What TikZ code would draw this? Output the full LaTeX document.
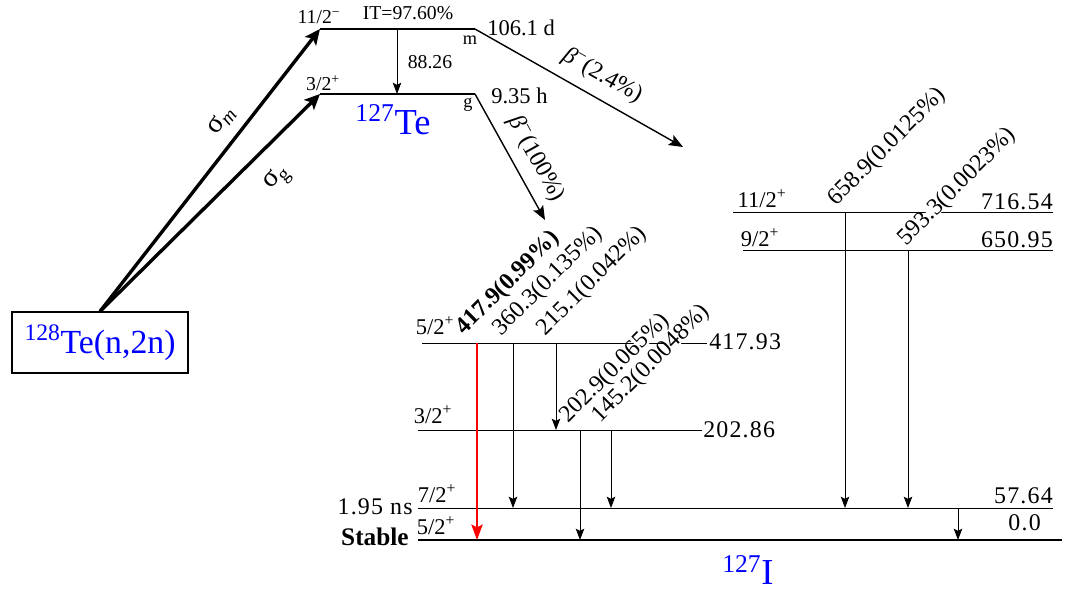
\documentclass[tikz,border=0pt]{standalone}
\usepackage{fontspec}
\setmainfont{Liberation Serif}
\newfontfamily\levelfont[LetterSpace=5]{Liberation Serif}
\usepackage{tikz}
\usetikzlibrary{arrows.meta, positioning, calc}
\definecolor{isoblue}{RGB}{0, 0, 255}
\definecolor{gammared}{RGB}{255, 0, 0}

\tikzset{
    levelline/.style={line width=0.7pt},
    boldlevel/.style={line width=2pt},
    gammaline/.style={line width=0.7pt, -{Stealth[length=8pt, width=6pt, inset=1.5pt]}},
    redgamma/.style={line width=1.6pt, draw=gammared, -{Stealth[length=11pt, width=8pt, inset=2pt]}},
    betaline/.style={line width=1pt, -{Stealth[length=10pt, width=8pt, inset=2pt]}},
    feedline/.style={line width=2.4pt, -{Stealth[length=11pt, width=10pt, inset=2.5pt]}},
    glabel/.style={rotate=45, anchor=south west, inner sep=0pt, text height=0.72em, text depth=0.05em,
                   fill=white, font=\fontsize{17}{17}\selectfont},
    spinlabel/.style={inner sep=0pt, font=\fontsize{14}{14}\selectfont},
    lowspin/.style={inner sep=0pt, font=\fontsize{16}{16}\selectfont},
    energylabel/.style={inner sep=0pt, font=\fontsize{17}{17}\levelfont},
    isolabel/.style={text=isoblue, inner sep=0pt, font=\fontsize{26}{26}\selectfont}
}

\begin{document}
\begin{tikzpicture}[x=0.025cm, y=-0.025cm]
    \useasboundingbox (0,0) rectangle (1065,594);

    % 128Te(n,2n) and the two 127Te states
    \node[draw, line width=1pt, minimum width=4.4cm, minimum height=1.52cm, isolabel,
          font=\fontsize{24}{24}\selectfont] (reaction) at (100,342.5) {\textsuperscript{128}Te(n,2n)};
    \coordinate (mleft) at (320,29);
    \coordinate (mright) at (475,29);
    \coordinate (gleft) at (320,94);
    \coordinate (gright) at (475,94);
    \draw[boldlevel] (mleft) -- (mright);
    \draw[boldlevel] (gleft) -- (gright);
    \draw[feedline] (reaction.north) -- (mleft)
        node[pos=0.63, sloped, above=4pt, font=\fontsize{20}{20}\selectfont] {σ\textsubscript{\textit{m}}};
    \draw[feedline] (reaction.north) -- (gleft)
        node[pos=0.71, sloped, below=9pt, font=\fontsize{20}{20}\selectfont] {σ\textsubscript{g}};

    \node[spinlabel] (mspin) at (319,17) {11/2\textsuperscript{−}};
    \node[spinlabel] (gspin) at (323,83) {3/2\textsuperscript{+}};
    \node[spinlabel] (itlabel) at (408,13) {IT=97.60\%};
    \node[spinlabel, font=\fontsize{13}{13}\selectfont] (mtag) at (470,40) {m};
    \node[spinlabel, font=\fontsize{13}{13}\selectfont] (gtag) at (468,105) {g};
    \node[spinlabel, anchor=west, font=\fontsize{16}{16}\selectfont] (mhalf) at (487,28) {106.1 d};
    \node[spinlabel, anchor=west, font=\fontsize{16}{16}\selectfont] (ghalf) at (491,96) {9.35 h};
    \node[isolabel] (te127) at (393,120) {\textsuperscript{127}Te};

    % isomeric transition
    \coordinate (ittop) at (397,29);
    \coordinate (itbot) at (397,94);
    \draw[gammaline] (ittop) -- (itbot);
    \node[spinlabel] (itenergy) at (430,62) {88.26};

    % beta decays
    \coordinate (mbetaend) at (683,147);
    \coordinate (gbetaend) at (545,220);
    \draw[betaline] (mright) -- (mbetaend)
        node[pos=0.56, sloped, above=4pt, font=\fontsize{17}{17}\selectfont] {\textit{β}\textsuperscript{−}(2.4\%)};
    \draw[betaline] (gright) -- (gbetaend)
        node[pos=0.6, sloped, above=4pt, font=\fontsize{17}{17}\selectfont] {\textit{β}\textsuperscript{−}(100\%)};

    % 127I levels
    \coordinate (l716a) at (733,212);
    \coordinate (l716b) at (1053,212);
    \coordinate (l650a) at (743,250);
    \coordinate (l650b) at (1053,250);
    \coordinate (l417a) at (422,343);
    \coordinate (l417b) at (707,343);
    \coordinate (l202a) at (418,430);
    \coordinate (l202b) at (702,430);
    \coordinate (l57a) at (418,508);
    \coordinate (l57b) at (1053,508);
    \coordinate (l0a) at (418,540);
    \coordinate (l0b) at (1062,540);
    \draw[levelline] (l716a) -- (l716b);
    \draw[levelline] (l650a) -- (l650b);
    \draw[levelline] (l417a) -- (l417b);
    \draw[levelline] (l202a) -- (l202b);
    \draw[levelline] (l57a) -- (l57b);
    \draw[boldlevel] (l0a) -- (l0b);

    \node[lowspin] (s716) at (762,199) {11/2\textsuperscript{+}};
    \node[lowspin] (s650) at (760,238) {9/2\textsuperscript{+}};
    \node[lowspin] (s417) at (435,326) {5/2\textsuperscript{+}};
    \node[lowspin] (s202) at (433,415) {3/2\textsuperscript{+}};
    \node[lowspin] (s57) at (437,494) {7/2\textsuperscript{+}};
    \node[lowspin] (s0) at (436,526) {5/2\textsuperscript{+}};
    \node[energylabel, anchor=east] (e716) at (1053,202) {716.54};
    \node[energylabel, anchor=east] (e650) at (1053,240) {650.95};
    \node[energylabel, anchor=west] (e417) at (709,342) {417.93};
    \node[energylabel, anchor=west] (e202) at (703,430) {202.86};
    \node[energylabel, anchor=east] (e57) at (1053,496) {57.64};
    \node[energylabel, anchor=east] (e0) at (1041,523) {0.0};
    \node[energylabel, anchor=east] (halflife) at (413,507) {1.95 ns};
    \node[anchor=east, inner sep=0pt, font=\fontsize{18}{18}\selectfont\bfseries] (stable) at (409,537) {Stable};
    \node[isolabel] (i127) at (748,570) {\textsuperscript{127}I};

    % gamma transitions
    \draw[redgamma] (l417a -| 477,0) -- (l0a -| 477,0);
    \draw[gammaline] (l417a -| 513,0) -- (l57a -| 513,0);
    \draw[gammaline] (l417a -| 556,0) -- (l202a -| 556,0);
    \draw[gammaline] (l202a -| 580,0) -- (l0a -| 580,0);
    \draw[gammaline] (l202a -| 611,0) -- (l57a -| 611,0);
    \draw[gammaline] (l716a -| 845,0) -- (l57a -| 845,0);
    \draw[gammaline] (l650a -| 908,0) -- (l57a -| 908,0);
    \draw[gammaline] (l57a -| 958,0) -- (l0a -| 958,0);

    \node[glabel, fill=none, font=\fontsize{17}{17}\selectfont\bfseries] (g417) at (465,336) {417.9(0.99\%)};
    \node[glabel, fill=none] (g360) at (502,337) {360.3(0.135\%)};
    \node[glabel, fill=none] (g215) at (546,337) {215.1(0.042\%)};
    \node[glabel] (g145) at (601,424) {145.2(0.0048\%)};
    \node[glabel] (g203) at (569,424) {202.9(0.065\%)};
    \node[glabel] (g659) at (837,207) {658.9(0.0125\%)};
    \node[glabel] (g593) at (907,247) {593.3(0.0023\%)};
\end{tikzpicture}
\end{document}
